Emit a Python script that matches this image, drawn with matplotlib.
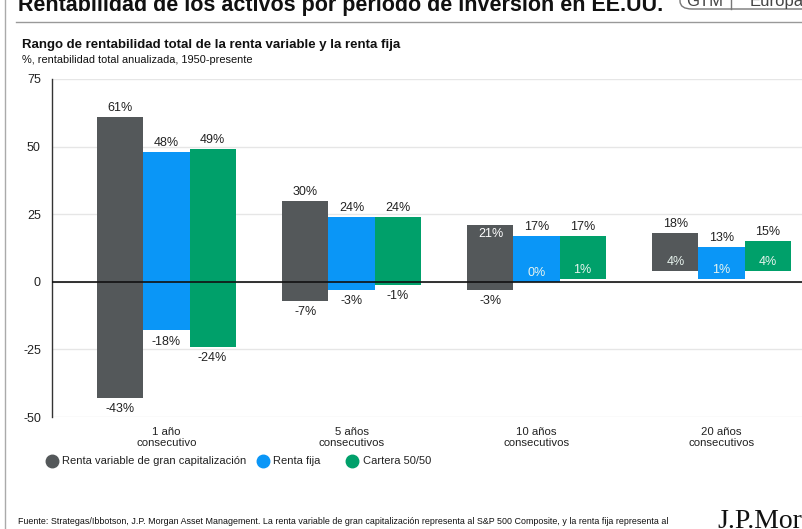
import matplotlib
matplotlib.use("Agg")
import matplotlib.pyplot as plt
from matplotlib.lines import Line2D
from matplotlib.patches import FancyBboxPatch
import numpy as np

plt.rcParams['font.family'] = ['Liberation Sans', 'DejaVu Sans']

categories = ["1 año\nconsecutivo", "5 años\nconsecutivos", "10 años\nconsecutivos", "20 años\nconsecutivos"]
series_names = ["Renta variable de gran capitalización", "Renta fija", "Cartera 50/50"]
max_values = [
    [61, 30, 21, 18],   # Renta variable
    [48, 24, 17, 13],   # Renta fija
    [49, 24, 17, 15],   # Cartera 50/50
]
min_values = [
    [-43, -7, -3, 4],
    [-18, -3, 0, 1],
    [-24, -1, 1, 4],
]
yticks = [-50, -25, 0, 25, 50, 75]
colors = ["#54585a", "#0a96f7", "#00a06a"]

W, H = 802, 529
fig = plt.figure(figsize=(W / 100, H / 100), dpi=100)

def fx(px):
    return px / W

def fy(py):
    return 1 - py / H

ax = fig.add_axes([fx(52), fy(417), 1 - fx(52), fy(79) - fy(417)])

n = len(categories)
x = np.arange(n)
bw = 0.249
for i, name in enumerate(series_names):
    pos = x + (i - 1) * bw
    lo = np.array(min_values[i], dtype=float)
    hi = np.array(max_values[i], dtype=float)
    ax.bar(pos, hi - lo, bottom=lo, width=bw, color=colors[i], linewidth=0, zorder=3)
    for j in range(n):
        # top label
        if i == 0 and j == 2:
            ax.annotate(f"{max_values[i][j]}%", (pos[j], hi[j]), xytext=(0, -6.5), textcoords="offset points",
                        ha="center", va="center", fontsize=9, color="white", zorder=4)
        else:
            ax.annotate(f"{max_values[i][j]}%", (pos[j], hi[j]), xytext=(0, 6.5), textcoords="offset points",
                        ha="center", va="center", fontsize=9, color="#222222", zorder=4)
        # bottom label
        if lo[j] < 0:
            ax.annotate(f"{min_values[i][j]}%", (pos[j], lo[j]), xytext=(0, -8), textcoords="offset points",
                        ha="center", va="center", fontsize=9, color="#222222", zorder=4)
        else:
            ax.annotate(f"{min_values[i][j]}%", (pos[j], lo[j]), xytext=(0, 6.5), textcoords="offset points",
                        ha="center", va="center", fontsize=9, color="#e8f4ee", zorder=4)

ax.set_xlim(-0.619, 3.435)
ax.set_ylim(-50, 75)
ax.set_yticks(yticks)
ax.set_yticklabels([str(v) for v in yticks], fontsize=9, color="#222222")
ax.set_xticks(x)
ax.set_xticklabels(categories, fontsize=8.2, color="#222222", linespacing=1.2)
ax.tick_params(axis="both", length=0)
ax.tick_params(axis="y", pad=8)
ax.tick_params(axis="x", pad=7)
for s in ["top", "right", "bottom"]:
    ax.spines[s].set_visible(False)
ax.spines["left"].set_color("#333333")
ax.spines["left"].set_linewidth(1.0)
ax.grid(axis="y", color="#e6e6e6", linewidth=1.0, zorder=0)
ax.axhline(0, color="#111111", linewidth=1.2, zorder=5)
ax.set_facecolor("white")

# Legend (manual placement)
leg_marker_x = [52, 263, 352]
leg_text_x = [62, 273, 363]
for c, name, mx, tx in zip(colors, series_names, leg_marker_x, leg_text_x):
    fig.add_artist(Line2D([fx(mx)], [fy(461)], transform=fig.transFigure, marker="o", linestyle="none",
                          markersize=9, markerfacecolor=c, markeredgecolor=c))
    fig.text(fx(tx), fy(461), name, fontsize=8, va="center", ha="left", color="#222222")

# Titles
fig.text(fx(22), fy(45), "Rango de rentabilidad total de la renta variable y la renta fija",
         fontsize=9.5, fontweight="bold", va="center", ha="left", color="#111111")
fig.text(fx(22), fy(60), "%, rentabilidad total anualizada, 1950-presente",
         fontsize=7.9, va="center", ha="left", color="#111111")

# Slide header (cropped)
fig.text(fx(18), fy(11), "Rentabilidad de los activos por período de inversión en EE.UU.",
         fontsize=15.5, fontweight="bold", va="baseline", ha="left", color="#111111")
box = FancyBboxPatch((fx(680), fy(9)), fx(200), 0.1, boxstyle="round,pad=0,rounding_size=0.015",
                     transform=fig.transFigure, facecolor="white", edgecolor="#777777", linewidth=1.0)
fig.add_artist(box)
fig.add_artist(Line2D([fx(731), fx(731)], [fy(9), 1.0], transform=fig.transFigure, color="#777777", linewidth=1.0))
fig.text(fx(705), fy(6), "GTM", fontsize=12, va="baseline", ha="center", color="#444444")
fig.text(fx(750), fy(6), "Europa", fontsize=12, va="baseline", ha="left", color="#444444")
fig.add_artist(Line2D([fx(16), 1.0], [fy(22), fy(22)], transform=fig.transFigure, color="#999999", linewidth=1.0))
fig.add_artist(Line2D([fx(4.5), fx(4.5)], [0, 1], transform=fig.transFigure, color="#aaaaaa", linewidth=1.0))

# Footnote and logo
fig.text(fx(18), fy(521), "Fuente: Strategas/Ibbotson, J.P. Morgan Asset Management. La renta variable de gran capitalización representa al S&P 500 Composite, y la renta fija representa al",
         fontsize=6.4, va="center", ha="left", color="#111111")
fig.text(fx(717), fy(528), "J.P.Morgan", fontsize=20, family=["Liberation Serif", "DejaVu Serif"],
         va="baseline", ha="left", color="#111111")

fig.savefig("out.png", dpi=100)
